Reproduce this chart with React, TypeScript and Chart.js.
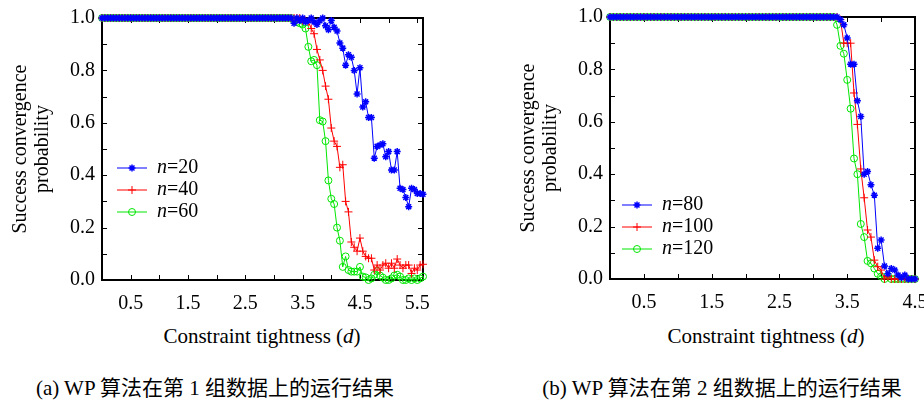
import React, { useEffect, useRef } from 'react';
import { Chart, registerables } from 'chart.js';
Chart.register(...registerables);

const SERIF = "'Liberation Serif', 'Times New Roman', serif";
const CAPTION_FONT = "'Liberation Serif', 'Noto Sans CJK SC', serif";

// Constraint tightness d (step 0.05)
const D = [
  0, 0.05, 0.1, 0.15, 0.2, 0.25, 0.3, 0.35, 0.4, 0.45,
  0.5, 0.55, 0.6, 0.65, 0.7, 0.75, 0.8, 0.85, 0.9, 0.95,
  1, 1.05, 1.1, 1.15, 1.2, 1.25, 1.3, 1.35, 1.4, 1.45,
  1.5, 1.55, 1.6, 1.65, 1.7, 1.75, 1.8, 1.85, 1.9, 1.95,
  2, 2.05, 2.1, 2.15, 2.2, 2.25, 2.3, 2.35, 2.4, 2.45,
  2.5, 2.55, 2.6, 2.65, 2.7, 2.75, 2.8, 2.85, 2.9, 2.95,
  3, 3.05, 3.1, 3.15, 3.2, 3.25, 3.3, 3.35, 3.4, 3.45,
  3.5, 3.55, 3.6, 3.65, 3.7, 3.75, 3.8, 3.85, 3.9, 3.95,
  4, 4.05, 4.1, 4.15, 4.2, 4.25, 4.3, 4.35, 4.4, 4.45,
  4.5, 4.55, 4.6, 4.65, 4.7, 4.75, 4.8, 4.85, 4.9, 4.95,
  5, 5.05, 5.1, 5.15, 5.2, 5.25, 5.3, 5.35, 5.4, 5.45,
  5.5, 5.55, 5.6,
];

// Panel (a)
const N20 = [
  1, 1, 1, 1, 1, 1, 1, 1, 1, 1,
  1, 1, 1, 1, 1, 1, 1, 1, 1, 1,
  1, 1, 1, 1, 1, 1, 1, 1, 1, 1,
  1, 1, 1, 1, 1, 1, 1, 1, 1, 1,
  1, 1, 1, 1, 1, 1, 1, 1, 1, 1,
  1, 1, 1, 1, 1, 1, 1, 1, 1, 1,
  1, 1, 1, 1, 1, 1, 1,
  0.98, 1.0, 0.99, 1.0, 0.985, 0.99, 1.0, 0.985, 0.975, 0.99,
  1.0, 0.97, 0.955, 0.99, 0.965, 0.95, 0.905, 0.885, 0.82, 0.86,
  0.85, 0.8, 0.71, 0.81, 0.66, 0.68, 0.62, 0.62, 0.465, 0.51,
  0.515, 0.52, 0.47, 0.49, 0.42, 0.42, 0.49, 0.35, 0.345, 0.315,
  0.28, 0.35, 0.345, 0.33, 0.33, 0.327,
];
const N40 = [
  1, 1, 1, 1, 1, 1, 1, 1, 1, 1,
  1, 1, 1, 1, 1, 1, 1, 1, 1, 1,
  1, 1, 1, 1, 1, 1, 1, 1, 1, 1,
  1, 1, 1, 1, 1, 1, 1, 1, 1, 1,
  1, 1, 1, 1, 1, 1, 1, 1, 1, 1,
  1, 1, 1, 1, 1, 1, 1, 1, 1, 1,
  1, 1, 1, 1, 1, 1, 1, 1,
  1.0, 1.0, 0.99, 0.99, 0.985, 0.96, 0.94, 0.88, 0.84, 0.8,
  0.74, 0.69, 0.58, 0.53, 0.51, 0.43, 0.44, 0.3, 0.26, 0.145,
  0.125, 0.11, 0.16, 0.11, 0.09, 0.083, 0.083, 0.038, 0.057, 0.038,
  0.057, 0.064, 0.045, 0.064, 0.045, 0.08, 0.057, 0.045, 0.057, 0.057,
  0.025, 0.045, 0.038, 0.057, 0.06,
];
const N60 = [
  1, 1, 1, 1, 1, 1, 1, 1, 1, 1,
  1, 1, 1, 1, 1, 1, 1, 1, 1, 1,
  1, 1, 1, 1, 1, 1, 1, 1, 1, 1,
  1, 1, 1, 1, 1, 1, 1, 1, 1, 1,
  1, 1, 1, 1, 1, 1, 1, 1, 1, 1,
  1, 1, 1, 1, 1, 1, 1, 1, 1, 1,
  1, 1, 1, 1, 1, 1,
  1.0, 0.99, 0.985, 0.98, 0.975, 0.96, 0.89, 0.835, 0.84, 0.82,
  0.61, 0.605, 0.53, 0.38, 0.31, 0.29, 0.2, 0.15, 0.05, 0.09,
  0.038, 0.032, 0.032, 0.032, 0.05, 0.013, 0.01, 0, 0.006, 0.02,
  0.034, 0.017, 0.009, 0, 0, 0.006, 0.017, 0.02, 0.013, 0,
  0, 0.006, 0, 0.006, 0, 0.006, 0.013,
];

// Panel (b)
const N80 = [
  1, 1, 1, 1, 1, 1, 1, 1, 1, 1,
  1, 1, 1, 1, 1, 1, 1, 1, 1, 1,
  1, 1, 1, 1, 1, 1, 1, 1, 1, 1,
  1, 1, 1, 1, 1, 1, 1, 1, 1, 1,
  1, 1, 1, 1, 1, 1, 1, 1, 1, 1,
  1, 1, 1, 1, 1, 1, 1, 1, 1, 1,
  1, 1, 1, 1, 1, 1, 1,
  1.0, 0.99, 0.97, 0.92, 0.82, 0.82, 0.68, 0.62, 0.4, 0.41,
  0.36, 0.32, 0.117, 0.149, 0.05, 0.02, 0.04, 0.034, 0.015, 0.005,
  0.015, 0, 0, 0,
];
const N100 = [
  1, 1, 1, 1, 1, 1, 1, 1, 1, 1,
  1, 1, 1, 1, 1, 1, 1, 1, 1, 1,
  1, 1, 1, 1, 1, 1, 1, 1, 1, 1,
  1, 1, 1, 1, 1, 1, 1, 1, 1, 1,
  1, 1, 1, 1, 1, 1, 1, 1, 1, 1,
  1, 1, 1, 1, 1, 1, 1, 1, 1, 1,
  1, 1, 1, 1, 1, 1, 1, 1,
  0.99, 0.9, 0.9, 0.9, 0.71, 0.59, 0.42, 0.31, 0.187, 0.16,
  0.072, 0.047, 0.034, 0, 0.01, 0, 0, 0, 0, 0,
  0, 0, 0,
];
const N120 = [
  1, 1, 1, 1, 1, 1, 1, 1, 1, 1,
  1, 1, 1, 1, 1, 1, 1, 1, 1, 1,
  1, 1, 1, 1, 1, 1, 1, 1, 1, 1,
  1, 1, 1, 1, 1, 1, 1, 1, 1, 1,
  1, 1, 1, 1, 1, 1, 1, 1, 1, 1,
  1, 1, 1, 1, 1, 1, 1, 1, 1, 1,
  1, 1, 1, 1, 1, 1, 1,
  0.97, 0.89, 0.86, 0.76, 0.65, 0.46, 0.4, 0.21, 0.16, 0.069,
  0.06, 0.04, 0.02, 0.01, 0, 0.013, 0, 0, 0, 0,
  0, 0, 0, 0,
];

const X_LABELS_A = [0.5, 1.5, 2.5, 3.5, 4.5, 5.5];
const X_LABELS_B = [0.5, 1.5, 2.5, 3.5, 4.5];
const X_TICKS_A = [0.5, 1, 1.5, 2, 2.5, 3, 3.5, 4, 4.5, 5, 5.5];
const X_TICKS_B = [0.5, 1, 1.5, 2, 2.5, 3, 3.5, 4];
const Y_LABELS = [0, 0.2, 0.4, 0.6, 0.8, 1];
const Y_TICKS = [0.1, 0.2, 0.3, 0.4, 0.5, 0.6, 0.7, 0.8, 0.9];

const BLUE = '#0000ff';
const RED = '#ff0000';
const GREEN = '#00e600';

type Series = { n: string; ys: number[]; color: string; style: string; radius: number };

const SERIES_A: Series[] = [
  { n: '20', ys: N20, color: BLUE, style: 'star', radius: 3.5 },
  { n: '40', ys: N40, color: RED, style: 'cross', radius: 4 },
  { n: '60', ys: N60, color: GREEN, style: 'circle', radius: 3.5 },
];
const SERIES_B: Series[] = [
  { n: '80', ys: N80, color: BLUE, style: 'star', radius: 3.5 },
  { n: '100', ys: N100, color: RED, style: 'cross', radius: 4 },
  { n: '120', ys: N120, color: GREEN, style: 'circle', radius: 3.5 },
];

function drawMarker(ctx: CanvasRenderingContext2D, style: string, x: number, y: number, r: number, color: string) {
  ctx.save();
  ctx.strokeStyle = color;
  ctx.lineWidth = style === 'star' ? 1.5 : 1;
  ctx.beginPath();
  if (style === 'circle') {
    ctx.arc(x, y, r, 0, Math.PI * 2);
  } else {
    const angles = style === 'star' ? [0, 45, 90, 135] : [0, 90];
    for (const a of angles) {
      const rad = (a * Math.PI) / 180;
      const dx = Math.cos(rad) * r;
      const dy = Math.sin(rad) * r;
      ctx.moveTo(x - dx, y - dy);
      ctx.lineTo(x + dx, y + dy);
    }
  }
  ctx.stroke();
  ctx.restore();
}

function framePlugin(xTicks: number[], yTicks: number[]) {
  return {
    id: 'frameTicks',
    beforeDatasetsDraw(chart: any) {
      const { ctx, chartArea: a, scales } = chart;
      ctx.save();
      ctx.strokeStyle = '#000';
      ctx.lineWidth = 2;
      ctx.strokeRect(a.left, a.top, a.right - a.left, a.bottom - a.top);
      ctx.lineWidth = 1;
      const L = 5;
      ctx.beginPath();
      for (const v of xTicks) {
        const px = Math.round(scales.x.getPixelForValue(v)) + 0.5;
        ctx.moveTo(px, a.bottom);
        ctx.lineTo(px, a.bottom - L);
        ctx.moveTo(px, a.top);
        ctx.lineTo(px, a.top + L);
      }
      for (const v of yTicks) {
        const py = Math.round(scales.y.getPixelForValue(v)) + 0.5;
        ctx.moveTo(a.left, py);
        ctx.lineTo(a.left + L, py);
        ctx.moveTo(a.right, py);
        ctx.lineTo(a.right - L, py);
      }
      ctx.stroke();
      ctx.restore();
    },
  };
}

function legendPlugin(items: Series[], x0: number, y0: number, dy: number) {
  return {
    id: 'innerLegend',
    afterDatasetsDraw(chart: any) {
      const ctx: CanvasRenderingContext2D = chart.ctx;
      ctx.save();
      items.forEach((it, i) => {
        const y = y0 + i * dy;
        ctx.strokeStyle = it.color;
        ctx.lineWidth = 1;
        ctx.beginPath();
        ctx.moveTo(x0, y);
        ctx.lineTo(x0 + 30, y);
        ctx.stroke();
        drawMarker(ctx, it.style, x0 + 15, y, it.radius, it.color);
        ctx.fillStyle = '#000';
        ctx.textBaseline = 'middle';
        ctx.textAlign = 'left';
        const tx = x0 + 40;
        ctx.font = `italic 20px ${SERIF}`;
        ctx.fillText('n', tx, y);
        const w = ctx.measureText('n').width;
        ctx.font = `20px ${SERIF}`;
        ctx.fillText('=' + it.n, tx + w, y);
      });
      ctx.restore();
    },
  };
}

type PanelProps = {
  left: number;
  top: number;
  width: number;
  height: number;
  series: Series[];
  xMax: number;
  xLabels: number[];
  xTicks: number[];
  legendX: number;
  legendY: number;
};

function Panel(p: PanelProps) {
  const ref = useRef<HTMLCanvasElement | null>(null);
  useEffect(() => {
    if (!ref.current) return;
    const chart = new Chart(ref.current, {
      type: 'line',
      data: {
        datasets: p.series.map((s) => ({
          label: 'n=' + s.n,
          data: s.ys.map((y, i) => ({ x: D[i], y })),
          borderColor: s.color,
          backgroundColor: s.color,
          borderWidth: 1,
          pointStyle: s.style as any,
          pointRadius: s.radius,
          pointBorderWidth: s.style === 'star' ? 1.5 : 1,
          pointBorderColor: s.color,
          pointBackgroundColor: s.style === 'circle' ? 'rgba(0,0,0,0)' : s.color,
          tension: 0,
          clip: false as any,
        })),
      },
      options: {
        responsive: false,
        animation: false,
        devicePixelRatio: 1,
        layout: { padding: { top: 18, right: 9, left: 0, bottom: 0 } },
        plugins: { legend: { display: false }, tooltip: { enabled: false } },
        scales: {
          x: {
            type: 'linear',
            min: 0,
            max: p.xMax,
            grid: { display: false, drawTicks: false },
            border: { display: false },
            afterBuildTicks: (s: any) => {
              s.ticks = p.xLabels.map((v) => ({ value: v }));
            },
            afterFit: (s: any) => {
              s.height = 40;
              s.paddingLeft = 0;
              s.paddingRight = 0;
            },
            ticks: {
              autoSkip: false,
              maxRotation: 0,
              padding: 12,
              color: '#000',
              font: { family: SERIF, size: 20 },
              callback: (v: any) => Number(v).toFixed(1),
            },
          },
          y: {
            type: 'linear',
            min: 0,
            max: 1,
            grid: { display: false, drawTicks: false },
            border: { display: false },
            afterBuildTicks: (s: any) => {
              s.ticks = Y_LABELS.map((v) => ({ value: v }));
            },
            afterFit: (s: any) => {
              s.width = 102;
              s.paddingTop = 0;
              s.paddingBottom = 0;
            },
            ticks: {
              autoSkip: false,
              padding: 7,
              color: '#000',
              font: { family: SERIF, size: 20 },
              callback: (v: any) => Number(v).toFixed(1),
            },
            title: {
              display: true,
              text: ['Success convergence', 'probability'],
              color: '#000',
              font: { family: SERIF, size: 20, lineHeight: 1.1 },
              padding: { top: 10, bottom: 0 },
            },
          },
        },
      },
      plugins: [framePlugin(p.xTicks, Y_TICKS), legendPlugin(p.series, p.legendX, p.legendY, 22)],
    } as any);
    return () => chart.destroy();
  }, []);
  return (
    <canvas
      ref={ref}
      width={p.width}
      height={p.height}
      style={{ position: 'absolute', left: p.left, top: p.top, width: p.width, height: p.height }}
    />
  );
}

const textStyle = (left: number, top: number, font: string, size: number): React.CSSProperties => ({
  position: 'absolute',
  left,
  top,
  width: 400,
  textAlign: 'center',
  fontFamily: font,
  fontSize: size,
  lineHeight: '24px',
  color: '#000',
  whiteSpace: 'nowrap',
});

export default function App() {
  return (
    <div style={{ position: 'absolute', left: 0, top: 0, width: 924, height: 402, background: '#fff', overflow: 'hidden' }}>
      <Panel left={0} top={0} width={432} height={320} series={SERIES_A} xMax={5.6} xLabels={X_LABELS_A} xTicks={X_TICKS_A} legendX={117} legendY={168} />
      <Panel left={508} top={-1} width={416} height={320} series={SERIES_B} xMax={4.5} xLabels={X_LABELS_B} xTicks={X_TICKS_B} legendX={114} legendY={206} />
      <div style={textStyle(62, 324, SERIF, 21)}>
        Constraint tightness (<i>d</i>)
      </div>
      <div style={textStyle(566, 324, SERIF, 21)}>
        Constraint tightness (<i>d</i>)
      </div>
      <div style={textStyle(15, 376, CAPTION_FONT, 21)}>(a) WP 算法在第 1 组数据上的运行结果</div>
      <div style={textStyle(522, 376, CAPTION_FONT, 21)}>(b) WP 算法在第 2 组数据上的运行结果</div>
    </div>
  );
}
